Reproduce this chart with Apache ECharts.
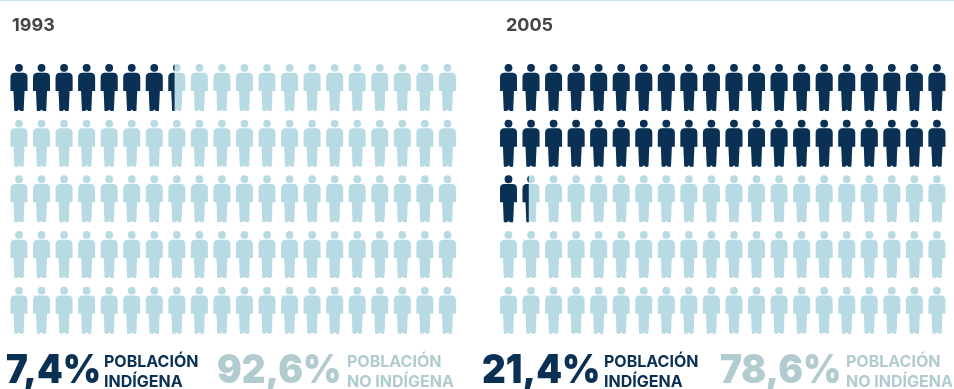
<!DOCTYPE html>
<html>
<head>
<meta charset="utf-8">
<style>html,body{margin:0;padding:0;background:#fff}#chart{width:954px;height:389px}</style>
<script src="https://cdn.jsdelivr.net/npm/echarts@6/dist/echarts.min.js"></script>
</head>
<body>
<div id="chart"></div>
<script>
// Filled figures per row of twenty, one list for each survey year
const years = ['1993', '2005'];
const filled1993 = [7.4, 0, 0, 0, 0];
const filled2005 = [20, 20, 1.4, 0, 0];
const rows = ['A', 'B', 'C', 'D', 'E'];
const figuresPerRow = 20;
const shareIndigenous = ['7,4%', '21,4%'];
const shareOther = ['92,6%', '78,6%'];
const labelIndigenous = ['POBLACIÓN', 'INDÍGENA'];
const labelOther = ['POBLACIÓN', 'NO INDÍGENA'];

const DARK = '#0a3054';
const LIGHT = '#b8dbe3';
const MUTED = '#b1cbcf';
const FONT = 'Inter, "Open Sans", sans-serif';

const person = 'path://M85,0A39,39,0,1,1,85,78A39,39,0,1,1,85,0Z' +
  'M45,87L125,87Q170,87,170,132L170,265Q170,270,165,270L140,270L132,462L128,470L100,470L85,456L70,470L42,470L38,462L30,270L5,270Q0,270,0,265L0,132Q0,87,45,87Z';

const pitch = 22.55;
const panels = [
  { left: 7.7, filled: filled1993 },
  { left: 497.2, filled: filled2005 }
];

const grids = [], xAxes = [], yAxes = [], series = [];
panels.forEach((panel, i) => {
  grids.push({ left: panel.left, top: 59.6, width: pitch * figuresPerRow, height: 278.5 });
  xAxes.push({ type: 'value', gridIndex: i, min: 0, max: figuresPerRow, show: false });
  yAxes.push({ type: 'category', gridIndex: i, data: rows, inverse: true, show: false });
  const layer = (data, color, z, clip) => ({
    type: 'pictorialBar',
    xAxisIndex: i,
    yAxisIndex: i,
    data,
    symbol: person,
    symbolSize: [17, 47],
    symbolRepeat: figuresPerRow,
    symbolMargin: (pitch - 17) / 2 + '!',
    symbolBoundingData: figuresPerRow,
    symbolClip: clip,
    itemStyle: { color },
    silent: true,
    animation: false,
    z
  });
  series.push(layer(rows.map(() => figuresPerRow), LIGHT, 2, false));
  series.push(layer(panel.filled, DARK, 3, true));
});

// y is the vertical middle of each line of text
const text = (x, y, str, size, color, weight, squeeze) => ({
  type: 'text', x, y,
  scaleX: squeeze || 1,
  style: { text: str, font: (weight || 700) + ' ' + size + 'px ' + FONT, fill: color, verticalAlign: 'middle' }
});

const captions = [
  { year: 12, big: 6, label: 104, big2: 217, label2: 347 },
  { year: 506, big: 482, label: 604, big2: 720, label2: 846 }
];
const graphics = [{ type: 'rect', shape: { x: 0, y: 0, width: 954, height: 1.2 }, style: { fill: '#c6e5ec' } }];
captions.forEach((c, i) => {
  graphics.push(text(c.year, 26, years[i], 18, '#444444'));
  graphics.push(text(c.big, 371, shareIndigenous[i], 40, DARK, 900, 0.92));
  graphics.push(text(c.label, 362, labelIndigenous[0], 16, DARK));
  graphics.push(text(c.label, 382, labelIndigenous[1], 16, DARK));
  graphics.push(text(c.big2, 371, shareOther[i], 40, MUTED, 900, 0.92));
  graphics.push(text(c.label2, 362, labelOther[0], 16, MUTED));
  graphics.push(text(c.label2, 382, labelOther[1], 16, MUTED));
});

const chart = echarts.init(document.getElementById('chart'), null, { renderer: 'canvas' });
chart.setOption({
  animation: false,
  backgroundColor: '#ffffff',
  grid: grids,
  xAxis: xAxes,
  yAxis: yAxes,
  series,
  graphic: graphics
});
</script>
</body>
</html>
